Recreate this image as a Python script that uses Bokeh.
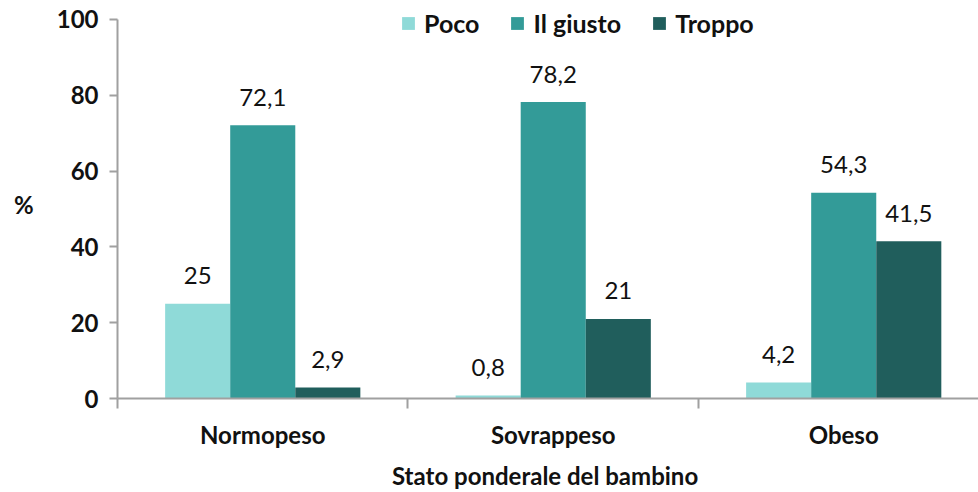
from bokeh.plotting import figure
from bokeh.models import (ColumnDataSource, Range1d, FixedTicker, LabelSet, Label,
                          Legend, LegendItem)
from bokeh.core.properties import value
from bokeh.embed import file_html
from bokeh.resources import INLINE

categories = ["Normopeso", "Sovrappeso", "Obeso"]
series = ["Poco", "Il giusto", "Troppo"]
poco = [25, 0.8, 4.2]
il_giusto = [72.1, 78.2, 54.3]
troppo = [2.9, 21, 41.5]
y_ticks = [0, 20, 40, 60, 80, 100]
colors = ["#8FDAD8", "#339B98", "#205E5C"]

FONT = "Lato"
bar_w = 0.224
offsets = [-bar_w, 0.0, bar_w]

p = figure(width=978, height=492, output_backend="svg", toolbar_location=None,
           x_range=Range1d(0, 2.964), y_range=Range1d(0, 102.6),
           min_border_left=117, min_border_right=0, min_border_top=9,
           min_border_bottom=91)
p.outline_line_color = None
p.xgrid.visible = False
p.ygrid.visible = False
p.background_fill_color = "white"
p.border_fill_color = "white"

def fmt(v):
    s = ("%g" % v)
    return s.replace(".", ",")

renderers = []
for vals, off, col, name in zip([poco, il_giusto, troppo], offsets, colors, series):
    xs = [i + 0.5 + off for i in range(len(categories))]
    src = ColumnDataSource(dict(x=xs, top=vals, lab=[fmt(v) for v in vals]))
    r = p.vbar(x="x", top="top", bottom=0, width=bar_w, source=src,
               fill_color=col, line_color=None)
    renderers.append((name, r))
    ls = LabelSet(x="x", y="top", text="lab", source=src, text_align="center",
                  text_baseline="middle", y_offset=28, text_font=value(FONT),
                  text_font_size=value("24px"), text_color="#111111")
    p.add_layout(ls)

# x axis
xa = p.xaxis[0]
xa.ticker = FixedTicker(ticks=[i + 0.5 for i in range(len(categories))],
                        minor_ticks=list(range(len(categories) + 1)))
xa.major_label_overrides = {i + 0.5: c for i, c in enumerate(categories)}
xa.major_tick_line_color = None
xa.major_tick_out = 0
xa.major_tick_in = 0
xa.minor_tick_out = 10
xa.minor_tick_in = 0
xa.minor_tick_line_color = "#A0A0A0"
xa.minor_tick_line_width = 2
xa.axis_line_color = "#A0A0A0"
xa.axis_line_width = 2
xa.major_label_text_font = FONT
xa.major_label_text_font_style = "bold"
xa.major_label_text_font_size = "24px"
xa.major_label_text_color = "#111111"
xa.major_label_standoff = 11
xa.axis_label = "Stato ponderale  del bambino"
xa.axis_label_text_font = FONT
xa.axis_label_text_font_style = "bold"
xa.axis_label_text_font_size = "24px"
xa.axis_label_text_color = "#111111"
xa.axis_label_standoff = 9

# y axis
ya = p.yaxis[0]
ya.ticker = FixedTicker(ticks=y_ticks)
ya.bounds = (0, 100)
ya.minor_tick_line_color = None
ya.major_tick_out = 8
ya.major_tick_in = 0
ya.major_tick_line_color = "#A0A0A0"
ya.major_tick_line_width = 2
ya.axis_line_color = "#A0A0A0"
ya.axis_line_width = 2
ya.major_label_text_font = FONT
ya.major_label_text_font_style = "bold"
ya.major_label_text_font_size = "24px"
ya.major_label_text_color = "#111111"
ya.major_label_standoff = 11

try:
    ya.axis_label_orientation = "horizontal"
    ya.axis_label = "%"
    ya.axis_label_text_font = FONT
    ya.axis_label_text_font_style = "bold"
    ya.axis_label_text_font_size = "24px"
    ya.axis_label_text_color = "#111111"
    ya.axis_label_standoff = 20
except Exception:
    p.add_layout(Label(x=22, y=190, x_units="screen", y_units="screen",
                       text="%", text_align="center", text_baseline="middle",
                       text_font=FONT, text_font_style="bold",
                       text_font_size="24px", text_color="#111111"))

legend = Legend(items=[LegendItem(label=n, renderers=[r]) for n, r in renderers],
                orientation="horizontal", location=(283, 360),
                border_line_color=None, background_fill_alpha=0,
                label_text_font=FONT, label_text_font_style="bold",
                label_text_font_size="25px", label_text_color="#111111",
                glyph_width=16, glyph_height=16, label_standoff=8,
                spacing=30, padding=0, margin=0)
p.add_layout(legend, "center")

open("out.html", "w").write(file_html(p, INLINE))
